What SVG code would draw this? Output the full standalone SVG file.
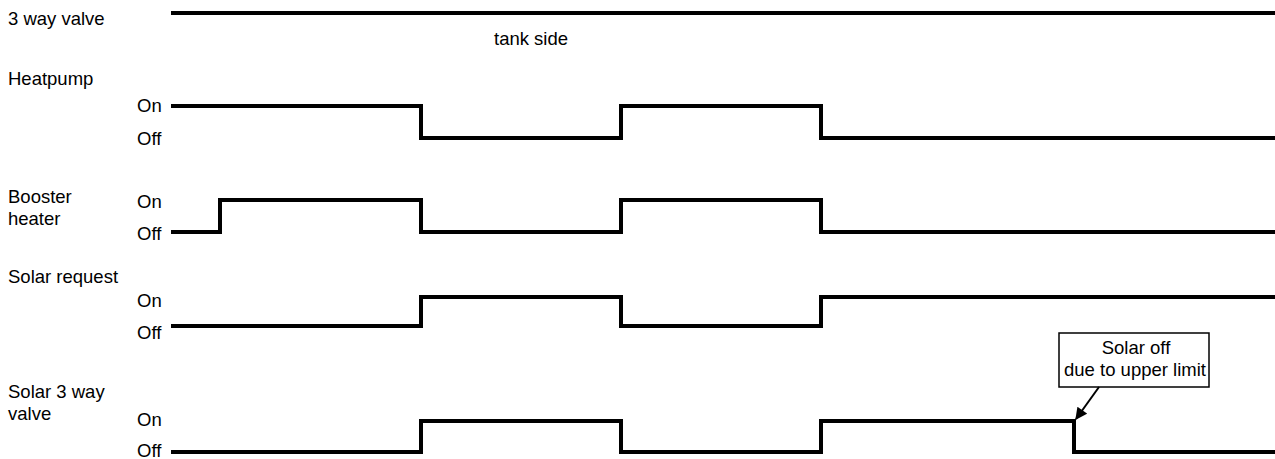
<svg xmlns="http://www.w3.org/2000/svg" width="1275" height="459" viewBox="0 0 1275 459">
<style>
text{font-family:"Liberation Sans",Arial,sans-serif;font-size:18.5px;fill:#000}
.sig{fill:none;stroke:#000;stroke-width:4;stroke-linejoin:miter;stroke-linecap:butt}
.box{fill:#fff;stroke:#000;stroke-width:1.5}
.arr{stroke:#000;stroke-width:2;fill:none}
</style>
<defs>
<marker id="ah" viewBox="0 0 10 10" refX="9" refY="5" markerWidth="7" markerHeight="6" markerUnits="strokeWidth" orient="auto">
<path d="M0,0 L10,5 L0,10 z" fill="#000"/>
</marker>
</defs>
<g id="valve3">
<text x="8" y="25">3 way valve</text>
<text x="494" y="45">tank side</text>
</g>
<g id="heatpump">
<text x="8" y="85">Heatpump</text>
<text x="137" y="112">On</text>
<text x="137" y="145">Off</text>
</g>
<g id="booster">
<text x="8" y="203">Booster</text>
<text x="8" y="225">heater</text>
<text x="137" y="208">On</text>
<text x="137" y="240">Off</text>
</g>
<g id="solarrequest">
<text x="8" y="283">Solar request</text>
<text x="137" y="307">On</text>
<text x="137" y="339">Off</text>
</g>
<g id="solarvalve">
<text x="8" y="398">Solar 3 way</text>
<text x="8" y="420">valve</text>
<text x="137" y="426">On</text>
<text x="137" y="457">Off</text>
</g>
<g id="callout">
<rect class="box" x="1059" y="333" width="150" height="54"/>
<text x="1136" y="354" text-anchor="middle">Solar off</text>
<text x="1135" y="376" text-anchor="middle">due to upper limit</text>
</g>
<g id="connectors">
<path class="sig" d="M171,13 H1275"/>
<path class="sig" d="M171,106 H421 V138 H621 V106 H821 V138 H1275"/>
<path class="sig" d="M171,232 H220 V200 H421 V232 H621 V200 H821 V232 H1275"/>
<path class="sig" d="M171,326 H421 V297 H621 V326 H821 V297 H1275"/>
<path class="sig" d="M171,452 H421 V421 H621 V452 H821 V421 H1074 V452 H1275"/>
<path class="arr" d="M1099,387 L1076,419" marker-end="url(#ah)"/>
</g>
</svg>
